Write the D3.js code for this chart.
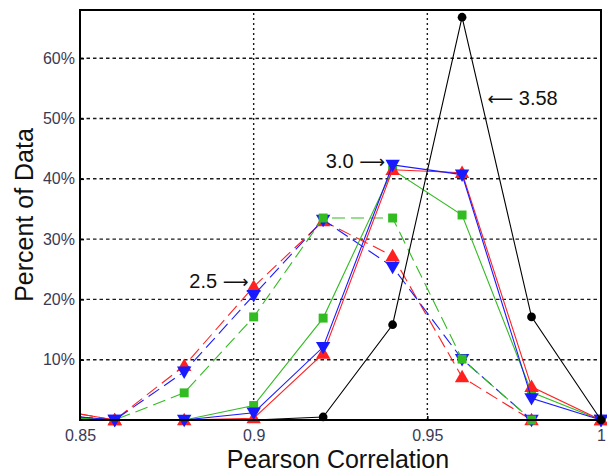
<!DOCTYPE html>
<html><head><meta charset="utf-8">
<script src="https://cdn.jsdelivr.net/npm/d3@7"></script>
<style>body{margin:0;background:#fff}svg{display:block}</style>
</head><body>
<script>
const xValues = [0.85, 0.86, 0.88, 0.90, 0.92, 0.94, 0.96, 0.98, 1.00];
const red30   = [1.0, 0, 0, 0.3, 11.0, 41.5, 41.0, 5.5, 0];
const blue30  = [0.5, 0, 0, 1.2, 12.1, 42.3, 40.7, 3.6, 0];
const green30 = [0.3, 0, 0, 2.4, 16.9, 41.5, 34.0, 4.6, 0];
const red25   = [1.0, 0, 9.0, 22.1, 33.0, 27.2, 7.1, 0, 0];
const blue25  = [0.5, 0, 8.0, 20.7, 33.2, 25.4, 10.1, 0, 0];
const green25 = [0.3, 0, 4.5, 17.1, 33.5, 33.5, 10.1, 0, 0];
const black358 = [0, 0, 0, 0, 0.5, 15.8, 66.8, 17.1, 0];
const yTicks = [10, 20, 30, 40, 50, 60];
const xTicks = [0.85, 0.9, 0.95, 1];
const xTickLabels = ["0.85", "0.9", "0.95", "1"];
const annotations = [
  {label: "3.0", arrow: "\u27F6", x: 0.9378, y: 41.8, side: "right"},
  {label: "2.5", arrow: "\u27F6", x: 0.8985, y: 21.9, side: "right"},
  {label: "3.58", arrow: "\u27F5", x: 0.9673, y: 52.2, side: "left"}
];

const W = 607, H = 472;
const m = {l: 80, r: 6, t: 10, b: 52};
const FONT = "Arial, 'Liberation Sans', sans-serif";
const svg = d3.select("body").append("svg").attr("width", W).attr("height", H);
const x = d3.scaleLinear().domain([0.85, 1]).range([m.l, W - m.r]);
const y = d3.scaleLinear().domain([0, 68]).range([H - m.b, m.t]);

// grid
svg.append("g").selectAll("line").data(yTicks).join("line")
  .attr("x1", x(0.85)).attr("x2", x(1)).attr("y1", d => y(d)).attr("y2", d => y(d))
  .attr("stroke", "#1a1a1a").attr("stroke-width", 1.4).attr("stroke-dasharray", "3.5,3");
svg.append("g").selectAll("line").data([0.9, 0.95]).join("line")
  .attr("y1", y(0)).attr("y2", y(68)).attr("x1", d => x(d)).attr("x2", d => x(d))
  .attr("stroke", "#1a1a1a").attr("stroke-width", 1.4).attr("stroke-dasharray", "2,3");

// axes
const yAxis = d3.axisLeft(y).tickValues(yTicks).tickFormat(d => d + "%").tickSize(-4).tickPadding(5);
const gy = svg.append("g").attr("transform", `translate(${x(0.85)},0)`).call(yAxis);
gy.select(".domain").remove();
gy.selectAll("line").attr("stroke-width", 1.5);
gy.selectAll("text").attr("font-family", FONT).attr("font-size", 16).attr("fill", "#3a3a55");
const xAxis = d3.axisBottom(x).tickValues(xTicks).tickFormat((d, i) => xTickLabels[i]).tickSize(-4).tickPadding(10);
const gx = svg.append("g").attr("transform", `translate(0,${y(0)})`).call(xAxis);
gx.select(".domain").remove();
gx.selectAll("line").attr("stroke-width", 1.5);
gx.selectAll("text").attr("font-family", FONT).attr("font-size", 16).attr("fill", "#3a3a55");

const series = [
  {v: red25, c: "#ff2020", dash: "13,6", sym: "up"},
  {v: blue25, c: "#1a1aff", dash: "13,6", sym: "down"},
  {v: green25, c: "#33bb22", dash: "13,6", sym: "sq"},
  {v: green30, c: "#33bb22", dash: null, sym: "sq"},
  {v: red30, c: "#ff2020", dash: null, sym: "up"},
  {v: blue30, c: "#1a1aff", dash: null, sym: "down"},
  {v: black358, c: "#000", dash: null, sym: "circ"}
];
const line = d3.line().x((d, i) => x(xValues[i])).y(d => y(d));
const symMap = {up: d3.symbolTriangle, down: d3.symbolTriangle, sq: d3.symbolSquare, circ: d3.symbolCircle};
series.forEach(s => {
  svg.append("path").attr("d", line(s.v)).attr("fill", "none").attr("stroke", s.c)
    .attr("stroke-width", 1.1).attr("stroke-dasharray", s.dash);
  const pts = s.v.map((d, i) => ({d, i})).filter(p => p.i > 0 && !(s.sym === "circ" && p.d === 0 && p.i < 4));
  svg.append("g").selectAll("path").data(pts).join("path")
    .attr("d", d3.symbol().type(symMap[s.sym]).size(s.sym === "circ" ? 60 : (s.sym === "sq" ? 80 : 90)))
    .attr("transform", p => `translate(${x(xValues[p.i])},${y(p.d) + (s.sym === "up" ? 1 : s.sym === "down" ? -1 : 0)})${s.sym === "down" ? " rotate(180)" : ""}`)
    .attr("fill", s.c);
});

// frame
svg.append("rect").attr("x", x(0.85)).attr("y", y(68)).attr("width", x(1) - x(0.85)).attr("height", y(0) - y(68))
  .attr("fill", "none").attr("stroke", "#000").attr("stroke-width", 2);

// annotations
const ann = svg.append("g").selectAll("text").data(annotations).join("text")
  .attr("x", d => x(d.x)).attr("y", d => y(d.y))
  .attr("text-anchor", d => d.side === "right" ? "end" : "start")
  .attr("font-family", FONT).attr("font-size", 20).attr("fill", "#111");
ann.each(function(d) {
  const t = d3.select(this);
  if (d.side === "right") {
    t.append("tspan").text(d.label + " ");
    t.append("tspan").attr("font-family", "'DejaVu Sans', sans-serif").attr("font-size", 18).text(d.arrow);
  } else {
    t.append("tspan").attr("font-family", "'DejaVu Sans', sans-serif").attr("font-size", 18).text(d.arrow);
    t.append("tspan").text(" " + d.label);
  }
});

// axis titles
svg.append("text").attr("x", 338).attr("y", 468).attr("text-anchor", "middle")
  .attr("font-family", FONT).attr("font-size", 25).attr("fill", "#111")
  .text("Pearson Correlation");
svg.append("text").attr("transform", `translate(33,${(y(0) + y(68)) / 2}) rotate(-90)`).attr("text-anchor", "middle")
  .attr("font-family", FONT).attr("font-size", 25).attr("fill", "#111")
  .text("Percent of Data");
</script>
</body></html>
